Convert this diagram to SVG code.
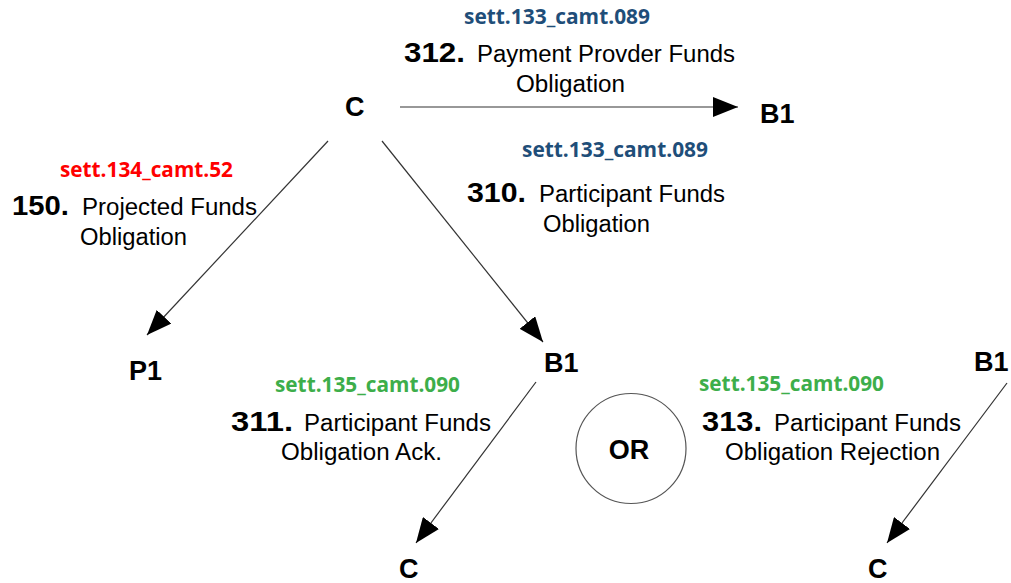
<svg xmlns="http://www.w3.org/2000/svg" width="1011" height="583" viewBox="0 0 1011 583">
  <style>
    .node { font-family: "Liberation Sans", Arial, sans-serif; font-weight: bold; font-size: 27px; fill: #000; }
    .num { font-family: "Liberation Sans", Arial, sans-serif; font-weight: bold; font-size: 27px; fill: #000; }
    .lbl { font-family: "Liberation Sans", Arial, sans-serif; font-size: 23.5px; fill: #000; }
    .code { font-family: "Open Sans", "Liberation Sans", sans-serif; font-weight: bold; font-size: 21px; }
    .blue { fill: #1F4E79; }
    .red { fill: #FF0000; }
    .green { fill: #3DAE4A; }
    .conn { stroke: #333; stroke-width: 1.2; fill: none; marker-end: url(#arrow); }
  </style>
  <defs>
    <marker id="arrow" viewBox="0 0 25 20" refX="25" refY="10" markerWidth="25" markerHeight="20" markerUnits="userSpaceOnUse" orient="auto">
      <path d="M0,0 L25,10 L0,20 z" fill="#000"/>
    </marker>
  </defs>

  <rect width="1011" height="583" fill="#fff"/>

  <!-- nodes -->
  <g id="node-c-top"><text class="node" x="345" y="116">C</text></g>
  <g id="node-b1-top"><text class="node" x="760" y="123">B1</text></g>
  <g id="node-p1"><text class="node" x="129" y="380">P1</text></g>
  <g id="node-b1-mid"><text class="node" x="544" y="372">B1</text></g>
  <g id="node-c-mid"><text class="node" x="399" y="578">C</text></g>
  <g id="node-b1-right"><text class="node" x="974" y="371">B1</text></g>
  <g id="node-c-right"><text class="node" x="868" y="578">C</text></g>
  <g id="node-or">
    <circle cx="631" cy="448.5" r="55" fill="none" stroke="#555" stroke-width="1.2"/>
    <text class="node" x="629" y="459" text-anchor="middle">OR</text>
  </g>

  <!-- connectors -->
  <g id="connectors">
    <line class="conn" x1="400" y1="107" x2="738" y2="107"/>
    <line class="conn" x1="328" y1="141" x2="147" y2="335"/>
    <line class="conn" x1="382" y1="141" x2="543" y2="342"/>
    <line class="conn" x1="536" y1="382" x2="416" y2="543"/>
    <line class="conn" x1="1007" y1="383" x2="887" y2="543"/>
  </g>

  <!-- message labels -->
  <g id="label-312">
    <text class="code blue" x="464" y="24" textLength="186" lengthAdjust="spacingAndGlyphs">sett.133_camt.089</text>
    <text class="num" x="404" y="62" textLength="61" lengthAdjust="spacingAndGlyphs">312.</text>
    <text class="lbl" x="477" y="62" textLength="258" lengthAdjust="spacingAndGlyphs">Payment Provder Funds</text>
    <text class="lbl" x="516" y="92" textLength="109" lengthAdjust="spacingAndGlyphs">Obligation</text>
  </g>
  <g id="label-310">
    <text class="code blue" x="522" y="157" textLength="186" lengthAdjust="spacingAndGlyphs">sett.133_camt.089</text>
    <text class="num" x="467" y="202" textLength="59" lengthAdjust="spacingAndGlyphs">310.</text>
    <text class="lbl" x="539" y="202" textLength="186" lengthAdjust="spacingAndGlyphs">Participant Funds</text>
    <text class="lbl" x="543" y="232" textLength="107" lengthAdjust="spacingAndGlyphs">Obligation</text>
  </g>
  <g id="label-150">
    <text class="code red" x="60" y="177" textLength="173" lengthAdjust="spacingAndGlyphs">sett.134_camt.52</text>
    <text class="num" x="12" y="215" textLength="57" lengthAdjust="spacingAndGlyphs">150.</text>
    <text class="lbl" x="82" y="215" textLength="175" lengthAdjust="spacingAndGlyphs">Projected Funds</text>
    <text class="lbl" x="80" y="245" textLength="107" lengthAdjust="spacingAndGlyphs">Obligation</text>
  </g>
  <g id="label-311">
    <text class="code green" x="275" y="392" textLength="185" lengthAdjust="spacingAndGlyphs">sett.135_camt.090</text>
    <text class="num" x="231" y="431" textLength="62" lengthAdjust="spacingAndGlyphs">311.</text>
    <text class="lbl" x="304" y="431" textLength="187" lengthAdjust="spacingAndGlyphs">Participant Funds</text>
    <text class="lbl" x="281" y="460" textLength="161" lengthAdjust="spacingAndGlyphs">Obligation Ack.</text>
  </g>
  <g id="label-313">
    <text class="code green" x="699" y="391" textLength="185" lengthAdjust="spacingAndGlyphs">sett.135_camt.090</text>
    <text class="num" x="702" y="431" textLength="60" lengthAdjust="spacingAndGlyphs">313.</text>
    <text class="lbl" x="774" y="431" textLength="187" lengthAdjust="spacingAndGlyphs">Participant Funds</text>
    <text class="lbl" x="725" y="460" textLength="215" lengthAdjust="spacingAndGlyphs">Obligation Rejection</text>
  </g>
</svg>
